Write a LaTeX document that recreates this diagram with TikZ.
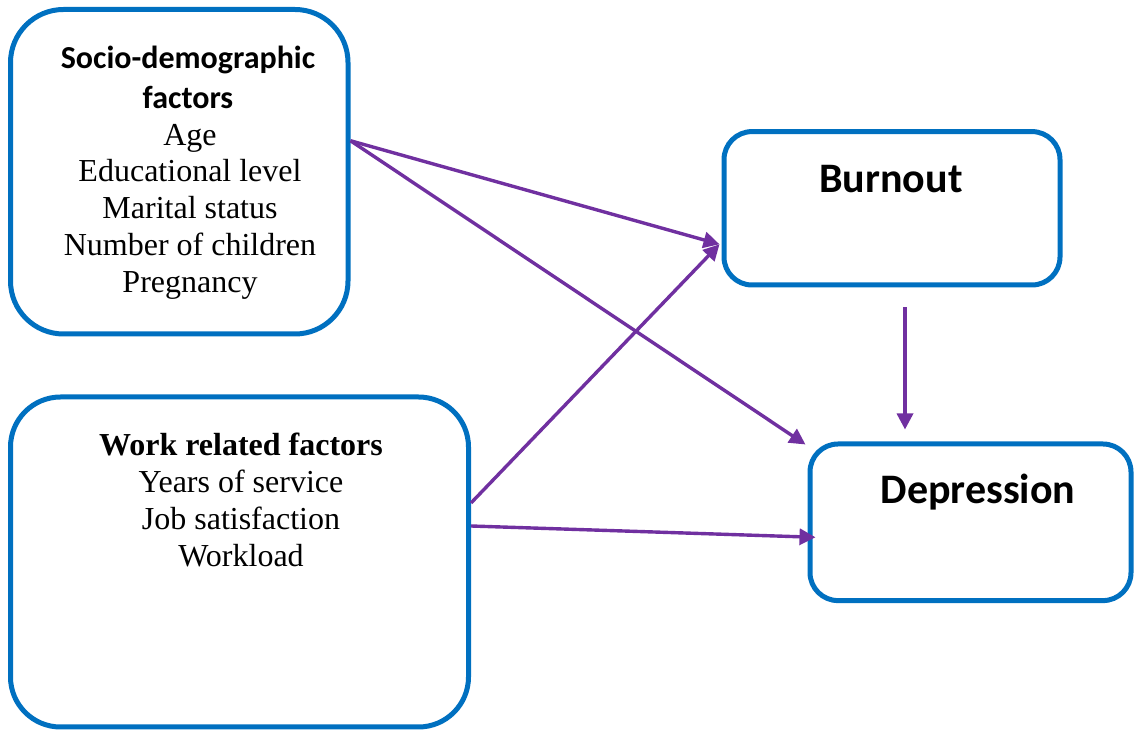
\documentclass[tikz,border=0pt]{standalone}
\usepackage{fontspec}
\setmainfont{Liberation Serif}
\newfontfamily\calibri{Carlito}
\usetikzlibrary{calc,arrows.meta}
\definecolor{boxblue}{RGB}{0,112,192}
\definecolor{linkpurple}{RGB}{112,48,160}

\begin{document}
\begin{tikzpicture}[x=0.5pt, y=-0.5pt,
    box/.style={draw=boxblue, line width=2.5pt, rounded corners=#1, inner sep=0pt},
    box/.default=14pt,
    link/.style={draw=linkpurple, line width=1.7pt, -{Triangle[length=8pt,width=8pt]}},
    item/.style={align=center, inner sep=0pt, font=\fontsize{16}{18.4}\selectfont},
    head/.style={align=center, inner sep=0pt, font=\calibri\bfseries\fontsize{16}{20}\selectfont},
    big/.style={inner sep=0pt, font=\calibri\bfseries\fontsize{21}{25}\selectfont}]
  \useasboundingbox (0,0) rectangle (1136,731);
  \node[box=26.5pt, minimum width=168.75pt, minimum height=162.25pt] (socio) at (179.25,171.75) {};
  \node[head] (sociohead) at (188,77) {Socio-demographic\\factors};
  \node[item] (socioitems) at (190,211.5) {Age\\Educational level\\Marital status\\Number of children\\Pregnancy};
  \node[box=25pt, minimum width=229pt, minimum height=165pt] (work) at (239.5,562) {};
  \node[item] (workitems) at (241,500) {\textbf{Work related factors}\\Years of service\\Job satisfaction\\Workload};
  \node[box, minimum width=168pt, minimum height=76.7pt] (burnout) at (892,208.3) {};
  \node[big] (burnouttext) at (891,179) {Burnout};
  \node[box, minimum width=160.5pt, minimum height=78.3pt] (depr) at (970.5,522.3) {};
  \node[big] (deprtext) at (978,492) {Depression};
  \coordinate (s0) at ($(socio.east)+(0,-31)$);
  \coordinate (w1) at ($(work.east)+(0,-59)$);
  \coordinate (w2) at ($(work.east)+(0,-36)$);
  \coordinate (bIn) at ($(burnout.west)+(-2,36)$);
  \coordinate (dCorner) at ($(depr.north west)+(-2,3)$);
  \coordinate (dIn) at ($(depr.west)+(8,15)$);
  \coordinate (b0) at ($(burnout.south)+(13,20)$);
  \coordinate (d0) at ($(b0 |- depr.north)+(0,-12)$);
  \draw[link] (s0) -- (bIn);
  \draw[link] (s0) -- (dCorner);
  \draw[link] (w1) -- (bIn);
  \draw[link] (w2) -- (dIn);
  \draw[link] (b0) -- (d0);
\end{tikzpicture}
\end{document}
